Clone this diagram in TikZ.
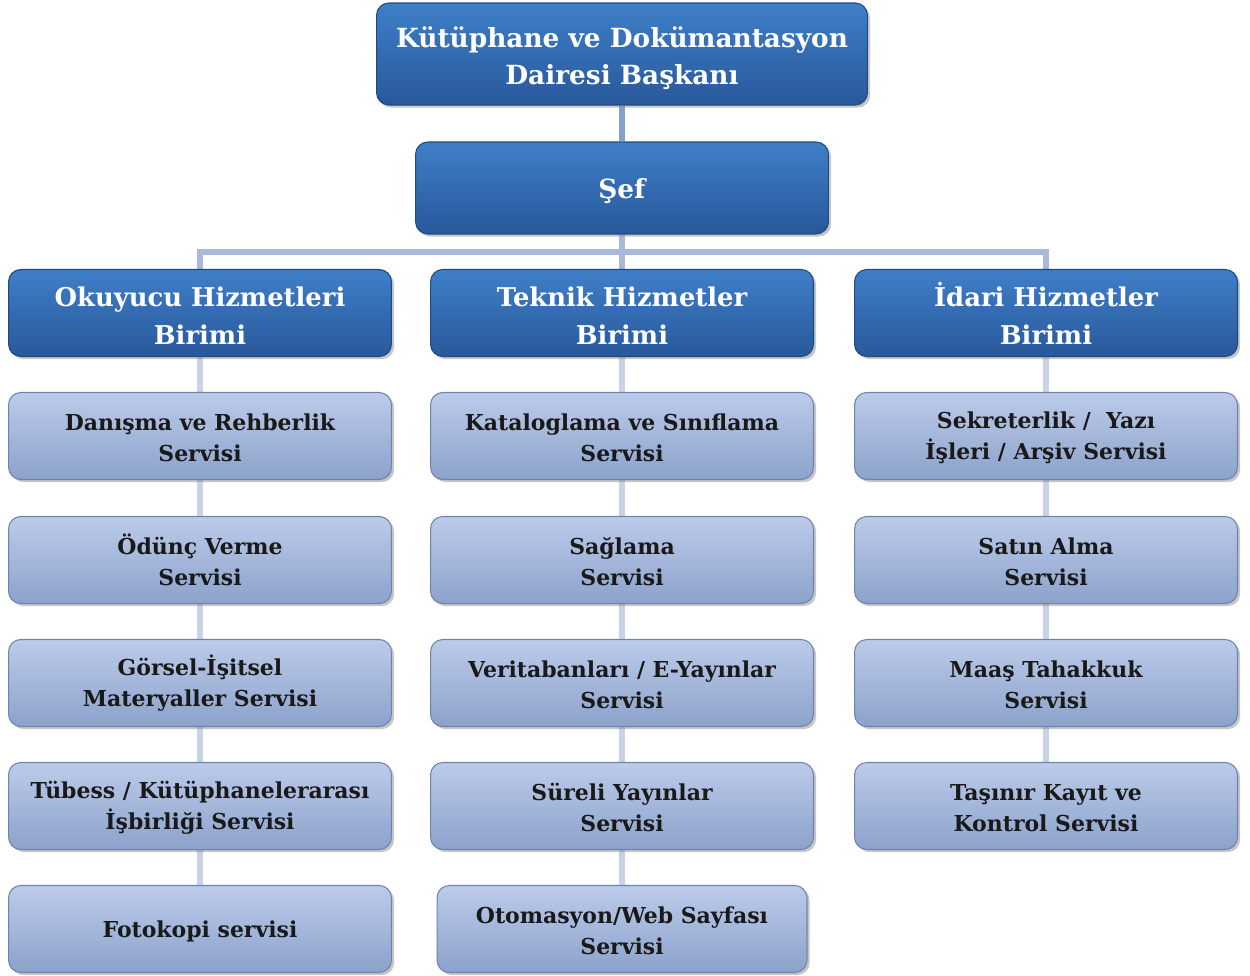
\documentclass[tikz,border=0pt]{standalone}
\usepackage{fontspec}
\setmainfont{DejaVu Serif}
\usetikzlibrary{shadows,positioning}
\pgfdeclarelayer{background}
\pgfsetlayers{background,main}
\definecolor{headtop}{HTML}{3F7FC8}
\definecolor{headbot}{HTML}{28589A}
\definecolor{headline}{HTML}{1F4A80}
\definecolor{servtop}{HTML}{BCCBEA}
\definecolor{servbot}{HTML}{8CA2CB}
\definecolor{servline}{HTML}{6F84AA}
\definecolor{topclr}{HTML}{85A1CE}
\definecolor{linkclr}{HTML}{A7BADA}
\definecolor{chainclr}{HTML}{C9D3E7}

\begin{document}
\begin{tikzpicture}[
    x=0.02cm,
    y=-0.02cm,
    head/.style ={
        rectangle,
        rounded corners=7pt,
        draw=headline,
        line width=0.6pt,
        top color=headtop,
        bottom color=headbot,
        text=white,
        font=\bfseries\fontsize{15}{20.5}\selectfont,
        align=center,
        drop shadow={shadow xshift=1.5pt, shadow yshift=-1.5pt, opacity=0.45},
        minimum width=7.66cm,
        minimum height=1.74cm
    },
    serv/.style ={
        rectangle,
        rounded corners=7pt,
        draw=servline,
        line width=0.6pt,
        top color=servtop,
        bottom color=servbot,
        text=black!90,
        font=\bfseries\fontsize{12.5}{17.5}\selectfont,
        align=center,
        drop shadow={shadow xshift=1.5pt, shadow yshift=-1.5pt, opacity=0.45},
        minimum width=7.66cm,
        minimum height=1.74cm
    },
    link/.style ={
        draw=linkclr,
        line width=3pt
    },
    chain/.style ={
        draw=chainclr,
        line width=3pt
    }
    ]
    \useasboundingbox (0,0) rectangle (1250,976);

    % top of the tree
    \node[head, minimum width=9.82cm, minimum height=2.04cm] (baskan) at (622,54) {\rule{0pt}{16.6pt}Kütüphane ve Dokümantasyon\\Dairesi Başkanı};
    \node[head, minimum width=8.26cm, minimum height=1.84cm] (sef) at (622,188) {\rule{0pt}{14.5pt}Şef};

    % units
    \foreach \name/ \x/ \txt in {okuyucu/200/{Okuyucu Hizmetleri\\Birimi}, teknik/622/{Teknik Hizmetler\\Birimi},
                                idari/1046/{İdari Hizmetler\\Birimi}}
        \node[head, font=\bfseries\fontsize{14.7}{21.6}\selectfont] (\name) at (\x,313) {\vphantom{İ}\txt};

    % services
    \foreach \name/ \pos/ \txt in {o1/{(200,436)}/{Danışma ve Rehberlik\\Servisi}, o2/{(200,560)}/{Ödünç Verme\\Servisi},
                                o3/{(200,683)}/{Görsel-İşitsel\\Materyaller Servisi}, o4/{(200,806)}/{Tübess / Kütüphanelerarası\\İşbirliği Servisi},
                                o5/{(200,929)}/{Fotokopi servisi},
                                t1/{(622,436)}/{Kataloglama ve Sınıflama\\Servisi}, t2/{(622,560)}/{Sağlama\\Servisi},
                                t3/{(622,683)}/{Veritabanları / E-Yayınlar\\Servisi}, t4/{(622,806)}/{Süreli Yayınlar\\Servisi},
                                i1/{(1046,436)}/{Sekreterlik /~ Yazı\\İşleri / Arşiv Servisi}, i2/{(1046,560)}/{Satın Alma\\Servisi},
                                i3/{(1046,683)}/{Maaş Tahakkuk\\Servisi}, i4/{(1046,806)}/{Taşınır Kayıt ve\\Kontrol Servisi}}
        \node[serv] (\name) at \pos {\vphantom{İ}\txt};
    \node[serv, minimum width=7.4cm] (t5) at (622,929) {\vphantom{İ}Otomasyon/Web Sayfası\\Servisi};

    \coordinate (bus) at (622,252);

    \begin{pgfonlayer}{background}
        \draw[link, draw=topclr] (baskan) -- (sef);
        \draw[link] (sef) -- (teknik);
        \draw[link] (okuyucu.north) -- (okuyucu.north |- bus) -- (idari.north |- bus) -- (idari.north);
        \foreach \src/ \dst in {okuyucu/o5, teknik/t5, idari/i4}
            \draw[chain] (\src) -- (\dst);
    \end{pgfonlayer}
\end{tikzpicture}
\end{document}
